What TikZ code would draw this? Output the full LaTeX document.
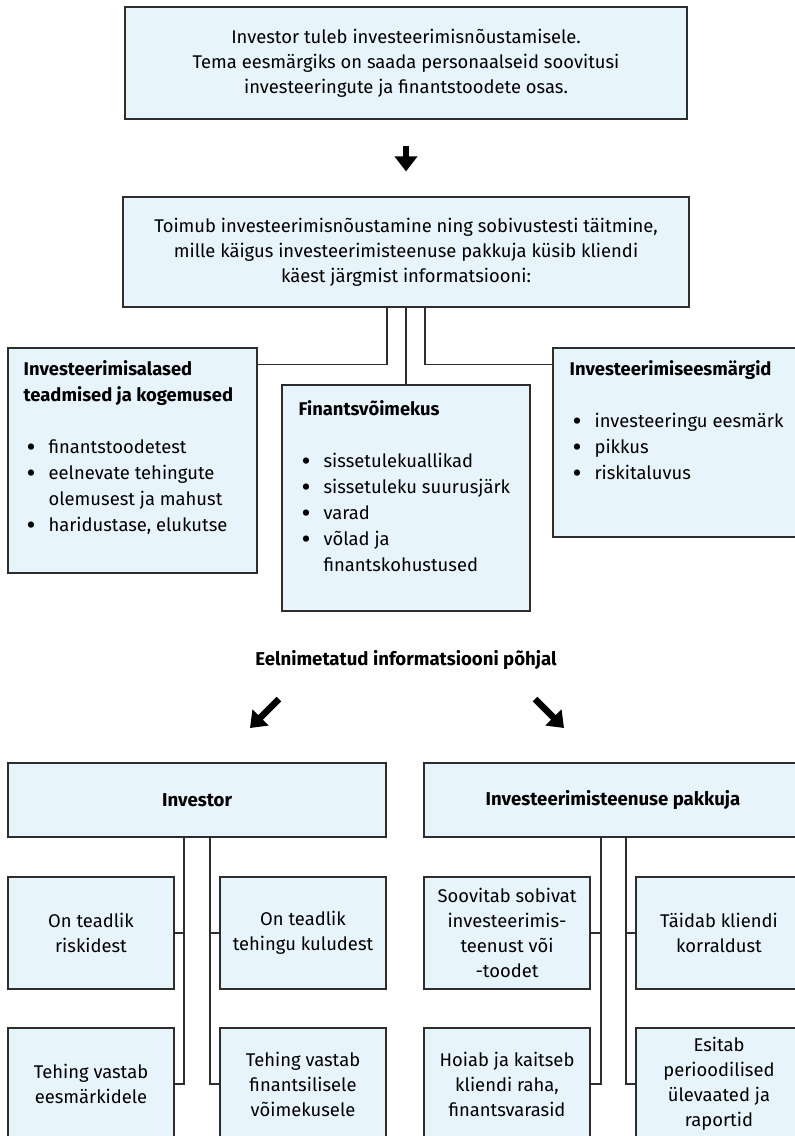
\documentclass[tikz,border=0pt]{standalone}
\usepackage{fontspec}
\setmainfont{Fira Sans}
\usepackage{tikz}
\usetikzlibrary{positioning, arrows.meta}
\definecolor{boxFill}{RGB}{232, 244, 252}
\definecolor{boxLine}{RGB}{45, 45, 45}
\tikzset{
    base/.style={
        font=\fontsize{18.4}{25}\selectfont,
        align=center,
        text=black
    },
    heading/.style={
        font=\fontsize{18.6}{25}\selectfont\bfseries
    },
    panel/.style={
        base,
        rectangle,
        draw=boxLine,
        line width=1.1pt,
        fill=boxFill,
        inner sep=0pt
    },
    smallbox/.style={
        panel,
        minimum width=166pt,
        minimum height=112pt
    },
    listtext/.style={
        base,
        font=\fontsize{18.4}{26}\selectfont,
        align=left,
        anchor=north west,
        inner sep=0pt
    },
    link/.style={
        draw=boxLine,
        line width=1.1pt
    },
    bigarrow/.style={
        line width=6.5pt,
        -{Triangle[length=15pt, width=22pt]},
        black
    }
}
\newcommand{\bpt}{\raisebox{-2.5pt}{\scalebox{1.5}{\textbullet}}}

\begin{document}
\begin{tikzpicture}[x=1pt, y=-1pt]
    \useasboundingbox (0,0) rectangle (795,1136);
    \clip (0,0) rectangle (795,1136);

    % Top boxes
    \node[panel, minimum width=562pt, minimum height=112pt] (intro) at (406,63) {
        Investor tuleb investeerimisnõustamisele.\\
        Tema eesmärgiks on saada personaalseid soovitusi\\
        investeeringute ja finantstoodete osas.
    };
    \node[panel, minimum width=566pt, minimum height=110pt] (process) at (406,252) {
        Toimub investeerimisnõustamine ning sobivustesti täitmine,\\
        mille käigus investeerimisteenuse pakkuja küsib kliendi\\
        käest järgmist informatsiooni:
    };

    % Information boxes
    \node[panel, minimum width=249pt, minimum height=225pt] (know) at (132.5,460.5) {};
    \node[panel, minimum width=248pt, minimum height=226pt] (cap) at (406,498) {};
    \node[panel, minimum width=249pt, minimum height=189pt] (goal) at (677.5,442.5) {};

    \node[listtext] (knowtext) at ([xshift=16pt, yshift=-10pt]know.north west) {
        \begin{tabular}{@{\hspace{3pt}}l@{\hspace{13pt}}l@{}}
            \multicolumn{2}{@{}l}{\bfseries Investeerimisalased}\\
            \multicolumn{2}{@{}l}{\bfseries teadmised ja kogemused}\\
            & \\
            \bpt & finantstoodetest\\
            \bpt & eelnevate tehingute\\
                 & olemusest ja mahust\\
            \bpt & haridustase, elukutse
        \end{tabular}
    };
    \node[listtext] (captext) at ([xshift=17pt, yshift=-13pt]cap.north west) {
        \begin{tabular}{@{\hspace{3pt}}l@{\hspace{13pt}}l@{}}
            \multicolumn{2}{@{}l}{\bfseries Finantsvõimekus}\\
            & \\
            \bpt & sissetulekuallikad\\
            \bpt & sissetuleku suurusjärk\\
            \bpt & varad\\
            \bpt & võlad ja\\
                 & finantskohustused
        \end{tabular}
    };
    \node[listtext] (goaltext) at ([xshift=17pt, yshift=-10pt]goal.north west) {
        \begin{tabular}{@{\hspace{3pt}}l@{\hspace{13pt}}l@{}}
            \multicolumn{2}{@{}l}{\bfseries Investeerimiseesmärgid}\\
            & \\
            \bpt & investeeringu eesmärk\\
            \bpt & pikkus\\
            \bpt & riskitaluvus
        \end{tabular}
    };

    % Links to information boxes
    \draw[link] ([xshift=-19pt]process.south) |- ([yshift=-17pt]know.north east);
    \draw[link] (process.south) -- (cap.north);
    \draw[link] ([xshift=19pt]process.south) |- ([yshift=-17pt]goal.north west);

    % Arrows
    \draw[bigarrow, shorten <=26pt, shorten >=25pt] (intro.south) -- (process.north);
    \node[base, heading] (basis) at (406,660) {Eelnimetatud informatsiooni põhjal};
    \coordinate (leftfrom) at (279,699);
    \coordinate (leftto) at (250,728);
    \coordinate (rightfrom) at (535,699);
    \coordinate (rightto) at (564,728);
    \draw[bigarrow] (leftfrom) -- (leftto);
    \draw[bigarrow] (rightfrom) -- (rightto);

    % Investor side
    \node[panel, heading, minimum width=378pt, minimum height=74pt] (investor) at (197,800) {Investor};
    \node[smallbox] (inv1) at (91,933) {On teadlik\\riskidest};
    \node[smallbox] (inv2) at (303,933) {On teadlik\\tehingu kuludest};
    \node[smallbox] (inv3) at (91,1084) {Tehing vastab\\eesmärkidele};
    \node[smallbox] (inv4) at (303,1084) {Tehing vastab\\finantsilisele\\võimekusele};

    \coordinate (invL) at ([xshift=-13pt]investor.south);
    \coordinate (invR) at ([xshift=13pt]investor.south);
    \draw[link] (invL) |- (inv3.east);
    \draw[link] (inv1.east) -- (inv1.east -| invL);
    \draw[link] (invR) |- (inv4.west);
    \draw[link] (inv2.west) -- (inv2.west -| invR);

    % Provider side
    \node[panel, heading, minimum width=378pt, minimum height=74pt] (provider) at (613,800) {Investeerimisteenuse pakkuja};
    \node[smallbox] (prv1) at (507,933) {Soovitab sobivat\\investeerimis-\\teenust või\\-toodet};
    \node[smallbox] (prv2) at (719,933) {Täidab kliendi\\korraldust};
    \node[smallbox] (prv3) at (507,1084) {Hoiab ja kaitseb\\kliendi raha,\\finantsvarasid};
    \node[smallbox] (prv4) at (719,1084) {Esitab\\perioodilised\\ülevaated ja\\raportid};

    \coordinate (prvL) at ([xshift=-12pt]provider.south);
    \coordinate (prvR) at ([xshift=13pt]provider.south);
    \draw[link] (prvL) |- (prv3.east);
    \draw[link] (prv1.east) -- (prv1.east -| prvL);
    \draw[link] (prvR) |- (prv4.west);
    \draw[link] (prv2.west) -- (prv2.west -| prvR);

\end{tikzpicture}
\end{document}
